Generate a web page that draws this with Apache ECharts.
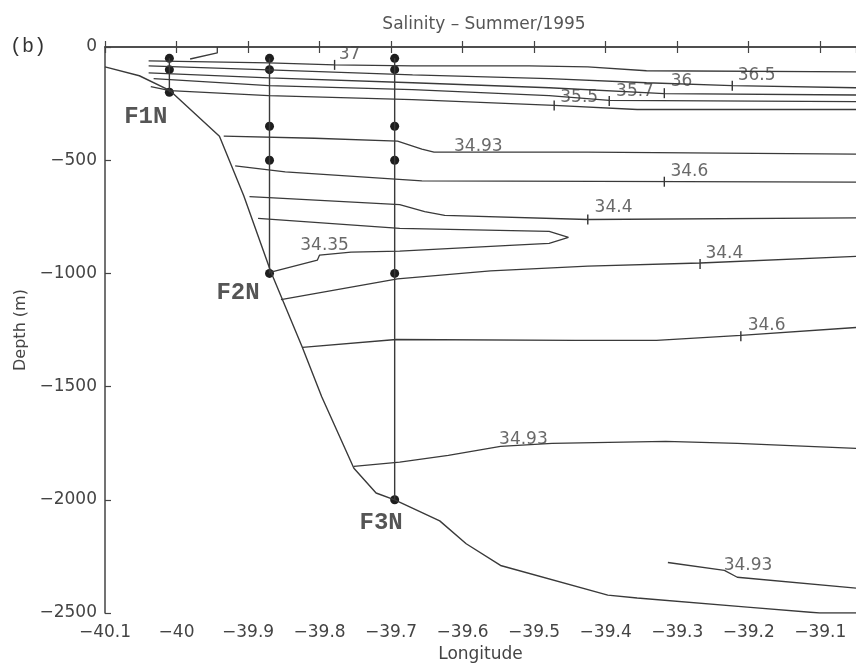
<!DOCTYPE html>
<html>
<head>
<meta charset="utf-8">
<script src="https://cdn.jsdelivr.net/npm/echarts@6/dist/echarts.min.js"></script>
<style>
html,body{margin:0;padding:0;background:#fff;}
#chart{width:856px;height:668px;}
</style>
</head>
<body>
<div id="chart"></div>
<script>
// ---- tick labels / axes ----
const xTicks = [-40.1, -40, -39.9, -39.8, -39.7, -39.6, -39.5, -39.4, -39.3, -39.2, -39.1];
const yTicks = [0, -500, -1000, -1500, -2000, -2500];

// ---- bathymetry (lon, depth) ----
const bathymetry = [[-40.100,-88],[-40.052,-127],[-40.009,-193],[-39.940,-394],[-39.906,-657],[-39.868,-994],[-39.824,-1327],[-39.797,-1545],[-39.752,-1861],[-39.721,-1970],[-39.695,-2000],[-39.632,-2093],[-39.595,-2194],[-39.547,-2290],[-39.397,-2421],[-39.356,-2434],[-39.202,-2474],[-39.101,-2500],[-39.05,-2500]];

// ---- salinity contours (lon, depth) ----
const c37 = [[-40.039,-61],[-39.871,-70],[-39.779,-79],[-39.670,-83],[-39.507,-83],[-39.425,-88],[-39.343,-105],[-39.05,-110]];
const c37b = [[-39.981,-53],[-39.943,-26],[-39.943,0]];
const c365 = [[-40.039,-83],[-39.871,-101],[-39.670,-123],[-39.479,-140],[-39.343,-158],[-39.223,-171],[-39.05,-180]];
const c36 = [[-40.039,-114],[-39.871,-136],[-39.670,-158],[-39.479,-180],[-39.318,-206],[-39.05,-212]];
const c357 = [[-40.032,-140],[-39.871,-171],[-39.670,-188],[-39.479,-215],[-39.395,-236],[-39.05,-241]];
const c355 = [[-40.036,-175],[-40.009,-193],[-39.871,-215],[-39.670,-232],[-39.472,-258],[-39.356,-276],[-39.05,-276]];
const c3493a = [[-39.934,-394],[-39.807,-403],[-39.691,-416],[-39.657,-451],[-39.640,-464],[-39.425,-464],[-39.05,-473]];
const c346a = [[-39.918,-525],[-39.848,-552],[-39.657,-591],[-39.05,-597]];
const c344a = [[-39.898,-661],[-39.871,-665],[-39.688,-696],[-39.653,-727],[-39.625,-744],[-39.425,-762],[-39.05,-755]];
const c3435 = [[-39.886,-757],[-39.688,-801],[-39.479,-814],[-39.452,-841],[-39.479,-867],[-39.534,-876],[-39.688,-902],[-39.756,-906],[-39.800,-919],[-39.803,-941],[-39.868,-994]];
const c344b = [[-39.854,-1116],[-39.691,-1024],[-39.561,-989],[-39.425,-968],[-39.268,-954],[-39.05,-925]];
const c346b = [[-39.824,-1327],[-39.693,-1292],[-39.442,-1296],[-39.329,-1296],[-39.211,-1274],[-39.05,-1239]];
const c3493b = [[-39.752,-1852],[-39.688,-1834],[-39.620,-1804],[-39.547,-1764],[-39.475,-1751],[-39.316,-1742],[-39.216,-1751],[-39.05,-1773]];
const c3493c = [[-39.313,-2277],[-39.234,-2312],[-39.216,-2342],[-39.05,-2390]];

// ---- contour labels ----
const labelText = ['37','36.5','36','35.7','35.5','34.93','34.6','34.4','34.35','34.4','34.6','34.93','34.93'];
const labelLon  = [-39.758,-39.189,-39.294,-39.359,-39.437,-39.578,-39.283,-39.389,-39.793,-39.234,-39.175,-39.515,-39.201];
const labelDepth= [-35,-127,-153,-197,-223,-442,-552,-709,-876,-911,-1230,-1734,-2290];
// label "+" marks on lines
const markLon   = [-39.779,-39.223,-39.318,-39.395,-39.472,-39.318,-39.425,-39.268,-39.211];
const markDepth = [-79,-171,-204,-239,-258,-595,-762,-959,-1278];

// ---- stations ----
const stationNames = ['F1N','F2N','F3N'];
const stationLon = [-40.01, -39.87, -39.695];
const stationDepths = [[-50,-100,-200],[-50,-100,-350,-500,-1000],[-50,-100,-350,-500,-1000,-2000]];
const stationLabelLon = [-40.043, -39.914, -39.714];
const stationLabelDepth = [-311, -1086, -2101];

const LINE = '#3a3a3a';
const minus = s => s.replace('-', '\u2212');

const contours = [c37, c37b, c365, c36, c357, c355, c3493a, c346a, c344a, c3435, c344b, c346b, c3493b, c3493c];

const series = [];
series.push({type:'line', data: bathymetry, showSymbol:false, lineStyle:{color:LINE, width:1.4}, silent:true});
contours.forEach(c => series.push({type:'line', data:c, showSymbol:false, lineStyle:{color:LINE, width:1.3}, silent:true}));
stationLon.forEach((lon, i) => {
  const d = stationDepths[i];
  series.push({type:'line', data:[[lon, d[0]], [lon, d[d.length-1]]], showSymbol:false, lineStyle:{color:LINE, width:1.4}, silent:true});
  series.push({type:'scatter', data:d.map(v => [lon, v]), symbol:'circle', symbolSize:9, itemStyle:{color:'#1e1e1e', opacity:1}, silent:true});
});
series.push({type:'scatter', data: markLon.map((l,i)=>[l, markDepth[i]]), symbol:'rect', symbolSize:[1.4,10], itemStyle:{color:'#333', opacity:1}, silent:true});
series.push({type:'scatter', data: labelText.map((t,i)=>({value:[labelLon[i], labelDepth[i]], name:t})), symbolSize:0,
  label:{show:true, position:'inside', formatter:p=>p.name, color:'#444', fontSize:17, fontFamily:'DejaVu Sans'}, silent:true});
series.push({type:'scatter', data: stationNames.map((t,i)=>({value:[stationLabelLon[i], stationLabelDepth[i]], name:t})), symbolSize:0,
  label:{show:true, position:'inside', formatter:p=>p.name, color:'#2a2a2a', fontSize:24, fontWeight:'bold', fontFamily:'Liberation Mono'}, silent:true});

const axisCommon = {
  axisLine:{show:true, lineStyle:{color:'#444', width:1.5}},
  axisTick:{show:true, inside:true, length:6, lineStyle:{color:'#444', width:1.2}},
  splitLine:{show:false}
};

const chart = echarts.init(document.getElementById('chart'), null, {renderer:'canvas'});
chart.setOption({
  animation:false,
  backgroundColor:'#fff',
  grid:{left:105, top:47, right:-19, bottom:49, containLabel:false},
  graphic:[
    {type:'text', left:10, top:37, style:{text:'(b)', font:'20px "Liberation Mono"', fill:'#333'}},
    {type:'text', x:484, y:25, style:{text:'Salinity \u2013 Summer/1995', font:'17px "DejaVu Sans"', fill:'#555', textAlign:'center', textVerticalAlign:'middle'}}
  ],
  xAxis:[
    Object.assign({type:'value', min:xTicks[0], max:-39.05, interval:0.1, position:'bottom',
      name:'Longitude', nameLocation:'middle', nameGap:33,
      nameTextStyle:{fontFamily:'DejaVu Sans', fontSize:17, color:'#444'},
      axisLabel:{margin:11, fontFamily:'DejaVu Sans', fontSize:17, color:'#444',
        formatter:v => minus(String(Math.round(v*10)/10))}}, axisCommon),
    Object.assign({type:'value', min:xTicks[0], max:-39.05, interval:0.1, position:'top', axisLabel:{show:false}}, axisCommon)
  ],
  yAxis:[
    Object.assign({type:'value', min:yTicks[yTicks.length-1], max:yTicks[0], interval:500,
      name:'Depth (m)', nameLocation:'middle', nameGap:70,
      nameTextStyle:{fontFamily:'DejaVu Sans', fontSize:16, color:'#444'},
      axisLabel:{margin:8, fontFamily:'DejaVu Sans', fontSize:17, color:'#444',
        formatter:v => minus(String(v))}}, axisCommon)
  ],
  series: series
});
</script>
</body>
</html>
